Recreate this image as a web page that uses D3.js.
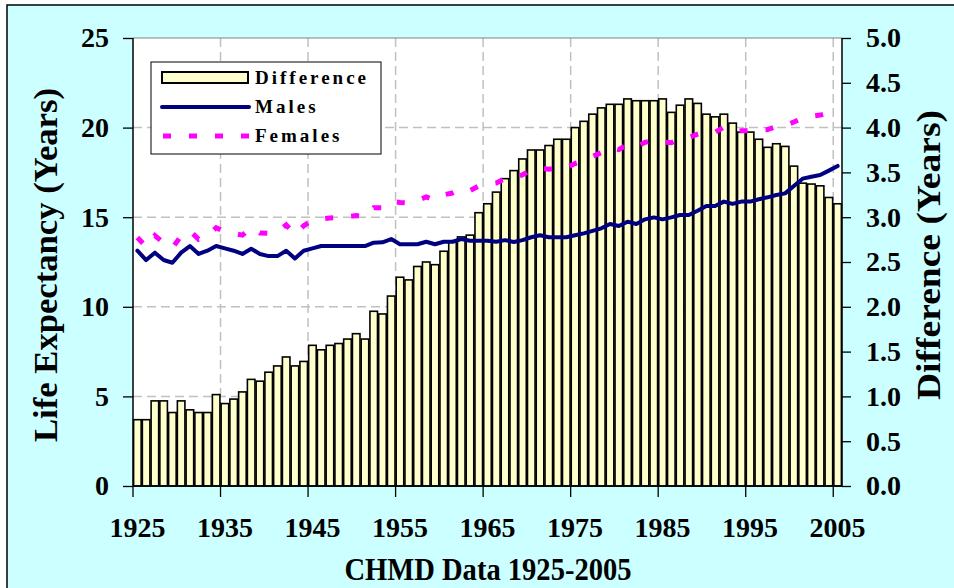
<!DOCTYPE html>
<html lang="en">
<head>
<meta charset="utf-8">
<script src="https://d3js.org/d3.v7.min.js"></script>
<style>
  body { margin: 0; background: #ffffff; }
  svg text { font-family: "Liberation Serif", "Times New Roman", serif; font-weight: bold; fill: #000; }
</style>
</head>
<body>
<div class="display1"></div>
<script>
// years 1925..2005
var years = d3.range(1925, 2006);
var yearTicks = [1925, 1935, 1945, 1955, 1965, 1975, 1985, 1995, 2005];
var leftTicks = [0, 5, 10, 15, 20, 25];
var rightTicks = [0, 0.5, 1, 1.5, 2, 2.5, 3, 3.5, 4, 4.5, 5];

// Difference (Years), right axis
var difference = [
  0.74, 0.74, 0.95, 0.95, 0.82, 0.95, 0.85, 0.82, 0.82, 1.02,
  0.92, 0.97, 1.05, 1.19, 1.17, 1.27, 1.34, 1.44, 1.34, 1.39,
  1.57, 1.52, 1.57, 1.59, 1.64, 1.70, 1.64, 1.95, 1.92, 2.12,
  2.33, 2.30, 2.45, 2.50, 2.47, 2.62, 2.72, 2.78, 2.80, 3.05,
  3.15, 3.28, 3.43, 3.52, 3.65, 3.75, 3.75, 3.80, 3.87, 3.87,
  4.00, 4.07, 4.15, 4.22, 4.26, 4.26, 4.32, 4.30, 4.30, 4.30,
  4.32, 4.17, 4.25, 4.32, 4.27, 4.15, 4.12, 4.15, 4.05, 3.95,
  3.95, 3.87, 3.78, 3.82, 3.79, 3.57, 3.38, 3.37, 3.35, 3.22,
  3.15
];

// Males life expectancy, left axis
var males = [
  13.13, 12.61, 13.02, 12.61, 12.46, 13.02, 13.39, 12.95, 13.13, 13.39,
  13.26, 13.13, 12.95, 13.24, 12.95, 12.83, 12.83, 13.13, 12.70, 13.13,
  13.26, 13.39, 13.39, 13.39, 13.39, 13.39, 13.39, 13.58, 13.60, 13.78,
  13.49, 13.49, 13.49, 13.63, 13.49, 13.63, 13.63, 13.78, 13.69, 13.69,
  13.69, 13.63, 13.72, 13.62, 13.72, 13.88, 13.99, 13.88, 13.88, 13.88,
  13.99, 14.10, 14.24, 14.38, 14.62, 14.51, 14.75, 14.62, 14.88, 14.99,
  14.88, 14.99, 15.12, 15.12, 15.36, 15.62, 15.62, 15.87, 15.74, 15.87,
  15.87, 16.00, 16.11, 16.24, 16.33, 16.74, 17.15, 17.26, 17.35, 17.60,
  17.86
];

// Females life expectancy, left axis
var females = [
  13.87, 13.35, 13.97, 13.56, 13.28, 13.97, 14.24, 13.77, 13.95, 14.41,
  14.18, 14.10, 14.00, 14.43, 14.12, 14.10, 14.17, 14.57, 14.04, 14.52,
  14.83, 14.91, 14.96, 14.98, 15.03, 15.09, 15.03, 15.53, 15.52, 15.90,
  15.82, 15.79, 15.94, 16.13, 15.96, 16.25, 16.35, 16.56, 16.49, 16.74,
  16.84, 16.91, 17.15, 17.14, 17.37, 17.63, 17.74, 17.68, 17.75, 17.75,
  17.99, 18.17, 18.39, 18.60, 18.88, 18.77, 19.07, 18.92, 19.18, 19.29,
  19.20, 19.16, 19.37, 19.44, 19.63, 19.77, 19.74, 20.02, 19.79, 19.82,
  19.82, 19.87, 19.89, 20.06, 20.12, 20.31, 20.53, 20.63, 20.70, 20.82,
  21.01
];

var legendLabels = ["Difference", "Males", "Females"];

var width = 954, height = 588;
var pLeft = 133, pRight = 842, pTop = 38, pBottom = 486;

var svg = d3.select('.display1').append('svg').attr('width', width).attr('height', height);

// chart background with border
svg.append('rect').attr('x', 7).attr('y', 5).attr('width', 980).attr('height', 620)
  .attr('fill', '#CCFFFF').attr('stroke', '#000').attr('stroke-width', 1.5);

var x = d3.scaleBand().domain(years).range([pLeft, pRight]).padding(0);
var yL = d3.scaleLinear().domain([0, 25]).range([pBottom, pTop]);
var yR = d3.scaleLinear().domain([0, 5]).range([pBottom, pTop]);
var bw = x.bandwidth();

// plot area
svg.append('rect').attr('x', pLeft).attr('y', pTop).attr('width', pRight - pLeft).attr('height', pBottom - pTop)
  .attr('fill', '#fff');

// gridlines
svg.append('g').selectAll('line').data(leftTicks.filter(function(d) { return d > 0 && d < 25; })).join('line')
  .attr('x1', pLeft).attr('x2', pRight)
  .attr('y1', function(d) { return yL(d); }).attr('y2', function(d) { return yL(d); })
  .attr('stroke', '#c0c0c0').attr('stroke-width', 1.5).attr('stroke-dasharray', '9,5');
svg.append('g').selectAll('line').data(yearTicks.slice(1)).join('line')
  .attr('x1', function(d) { return x(d); }).attr('x2', function(d) { return x(d); })
  .attr('y1', pTop).attr('y2', pBottom)
  .attr('stroke', '#c0c0c0').attr('stroke-width', 1.5).attr('stroke-dasharray', '9,5');
svg.append('line').attr('x1', pLeft).attr('x2', pRight).attr('y1', pTop).attr('y2', pTop)
  .attr('stroke', '#808080').attr('stroke-width', 1);

// bars
svg.append('g').selectAll('rect').data(difference).join('rect')
  .attr('x', function(d, i) { return x(years[i]) + 0.6; })
  .attr('width', bw - 1.2)
  .attr('y', function(d) { return yR(d); })
  .attr('height', function(d) { return pBottom - yR(d); })
  .attr('fill', '#FFFFCC').attr('stroke', '#000').attr('stroke-width', 1.6);

// lines
var lineL = d3.line()
  .x(function(d, i) { return x(years[i]) + bw / 2; })
  .y(function(d) { return yL(d); });

svg.append('path').datum(males).attr('d', lineL)
  .attr('fill', 'none').attr('stroke', '#000080').attr('stroke-width', 4)
  .attr('stroke-linejoin', 'round').attr('stroke-linecap', 'round');
svg.append('path').datum(females).attr('d', lineL)
  .attr('fill', 'none').attr('stroke', '#FF00FF').attr('stroke-width', 5)
  .attr('stroke-dasharray', '8,18');

// axes
var axL = svg.append('g').attr('transform', 'translate(' + pLeft + ',0)')
  .call(d3.axisLeft(yL).tickValues(leftTicks).tickSize(10).tickSizeOuter(0).tickPadding(14));
var axR = svg.append('g').attr('transform', 'translate(' + pRight + ',0)')
  .call(d3.axisRight(yR).tickValues(rightTicks).tickSize(9).tickSizeOuter(0).tickPadding(15)
    .tickFormat(d3.format('.1f')));
var axB = svg.append('g').attr('transform', 'translate(0,' + pBottom + ')')
  .call(d3.axisBottom(x).tickValues(yearTicks).tickSize(11).tickSizeOuter(0).tickPadding(20));
axB.selectAll('.tick line').attr('x1', -bw / 2).attr('x2', -bw / 2);

[axL, axR, axB].forEach(function(a) {
  a.select('.domain').attr('stroke', '#000').attr('stroke-width', 1.5);
  a.selectAll('.tick line').attr('stroke', '#000').attr('stroke-width', 1.3);
  a.selectAll('.tick text').style('font-size', '28px').style('font-family', '"Liberation Serif", serif')
    .style('font-weight', 'bold');
});
axL.select('.domain').attr('d', 'M0,' + pTop + 'V' + pBottom);
axR.select('.domain').attr('d', 'M0,' + pTop + 'V' + pBottom);
axB.select('.domain').attr('d', 'M' + pLeft + ',0H' + pRight);

// axis titles
svg.append('text').attr('transform', 'translate(57,265) rotate(-90)')
  .attr('text-anchor', 'middle').style('font-size', '33px')
  .attr('textLength', 354).attr('lengthAdjust', 'spacingAndGlyphs')
  .text('Life Expectancy (Years)');
svg.append('text').attr('transform', 'translate(940,255) rotate(-90)')
  .attr('text-anchor', 'middle').style('font-size', '33px')
  .attr('textLength', 290).attr('lengthAdjust', 'spacingAndGlyphs')
  .text('Difference (Years)');
svg.append('text').attr('x', 488).attr('y', 580)
  .attr('text-anchor', 'middle').style('font-size', '31px')
  .attr('textLength', 287).attr('lengthAdjust', 'spacingAndGlyphs')
  .text('CHMD Data 1925-2005');

// legend
var lg = svg.append('g');
lg.append('rect').attr('x', 151).attr('y', 62).attr('width', 230).attr('height', 92)
  .attr('fill', '#fff').attr('stroke', '#000').attr('stroke-width', 1);
lg.append('rect').attr('x', 162).attr('y', 72).attr('width', 86).attr('height', 11)
  .attr('fill', '#FFFFCC').attr('stroke', '#000').attr('stroke-width', 2);
lg.append('line').attr('x1', 162).attr('x2', 249).attr('y1', 107).attr('y2', 107)
  .attr('stroke', '#000080').attr('stroke-width', 4).attr('stroke-linecap', 'round');
lg.append('line').attr('x1', 163).attr('x2', 251).attr('y1', 136).attr('y2', 136)
  .attr('stroke', '#FF00FF').attr('stroke-width', 5).attr('stroke-dasharray', '8,18');
lg.selectAll('text.leg').data(legendLabels).join('text').attr('class', 'leg')
  .attr('x', 255).attr('y', function(d, i) { return 84 + i * 29; })
  .style('font-size', '19px').style('letter-spacing', '3px')
  .text(function(d) { return d; });
</script>
</body>
</html>
